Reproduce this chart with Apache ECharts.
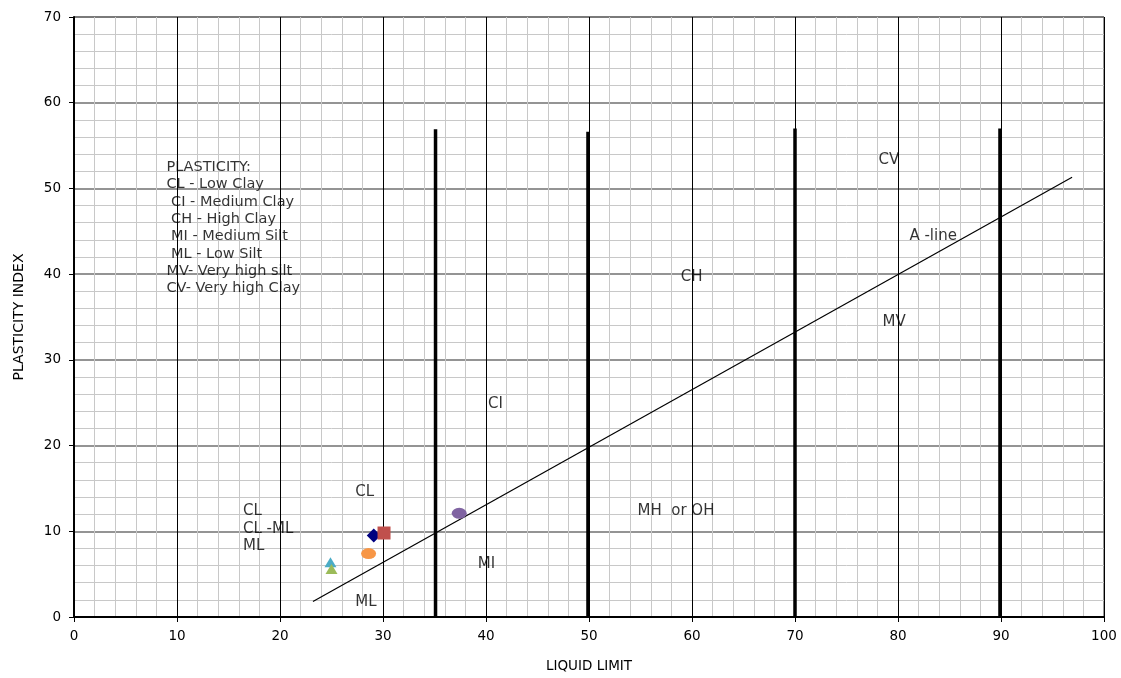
<!DOCTYPE html>
<html>
<head>
<meta charset="utf-8">
<script src="https://cdn.jsdelivr.net/npm/echarts@6/dist/echarts.min.js"></script>
<style>
html,body{margin:0;padding:0;background:#fff;}
#chart{width:1121px;height:678px;}
</style>
</head>
<body>
<div id="chart"></div>
<script>
// ---- Data ----
const xTicks = [0, 10, 20, 30, 40, 50, 60, 70, 80, 90, 100];
const yTicks = [0, 10, 20, 30, 40, 50, 60, 70];

// Sample points (Liquid limit, Plasticity index)
const sampleLL = [29.1, 30.1, 28.6, 24.9, 25.0, 37.4];
const samplePI = [9.5, 9.8, 7.4, 6.4, 5.6, 12.1];
const sampleSymbols = ['diamond', 'rect', 'ellipse', 'triangle', 'triangle', 'ellipse'];
const sampleColors = ['#000080', '#C0504D', '#F79646', '#4BACC6', '#9BBB59', '#8064A2'];

// A-line end points
const aLineLL = [23.2, 96.9];
const aLinePI = [1.8, 51.3];

// Thick zone boundary lines
const boundaryLL = [35.1, 49.9, 70.0, 89.9];
const boundaryTop = [56.9, 56.6, 57.0, 57.0];

// Zone annotations (left edge x, centre y, text)
const zoneLL = [78.1, 81.1, 58.9, 78.5, 40.2, 27.3, 16.4, 16.4, 16.4, 39.2, 27.3, 54.7];
const zonePI = [53.3, 44.4, 39.6, 34.4, 24.8, 14.6, 12.3, 10.3, 8.3, 6.2, 1.7, 12.3];
const zoneText = ['CV', 'A -line', 'CH', 'MV', 'CI', 'CL', 'CL', 'CL -ML', 'ML', 'MI', 'ML', 'MH  or OH'];

// Key text block
const keyLines = ['PLASTICITY:', 'CL - Low Clay', ' CI - Medium Clay', ' CH - High Clay', ' MI - Medium Silt', ' ML - Low Silt', 'MV- Very high silt', 'CV- Very high Clay'];
const keyPos = [8.97, 45.4];

// ---- Build ----
const FONT = 'DejaVu Sans';
const series = [];

boundaryLL.forEach((x, i) => {
  series.push({
    type: 'line', silent: true, symbol: 'none', animation: false,
    data: [[x, 0], [x, boundaryTop[i]]],
    lineStyle: { color: '#000', width: 3.5 }, z: 3
  });
});

series.push({
  type: 'line', silent: true, symbol: 'none', animation: false,
  data: aLineLL.map((x, i) => [x, aLinePI[i]]),
  lineStyle: { color: '#000', width: 1.2 }, z: 4
});

const symSizes = { diamond: [14, 14], rect: [13, 13], ellipse: [15, 11], triangle: [12, 10] };
sampleLL.forEach((x, i) => {
  let sym = sampleSymbols[i];
  const size = symSizes[sym];
  if (sym === 'ellipse') sym = 'circle';
  series.push({
    type: 'scatter', animation: false,
    data: [[x, samplePI[i]]],
    symbol: sym, symbolSize: size,
    itemStyle: { color: sampleColors[i], opacity: 1 }, z: 5
  });
});

series.push({
  type: 'scatter', animation: false, silent: true,
  data: zoneLL.map((x, i) => ({ value: [x, zonePI[i]], name: zoneText[i] })),
  symbolSize: 0.1,
  itemStyle: { color: 'transparent' },
  label: {
    show: true, position: 'right', distance: 0,
    formatter: p => p.name,
    color: '#000', fontFamily: FONT, fontSize: 15
  },
  z: 6
});

series.push({
  type: 'scatter', animation: false, silent: true,
  data: [{ value: keyPos, name: keyLines.join('\n') }],
  symbolSize: 0.1,
  itemStyle: { color: 'transparent' },
  label: {
    show: true, position: 'right', distance: 0, align: 'left',
    formatter: p => p.name,
    color: '#000', fontFamily: FONT, fontSize: 14.5, lineHeight: 17.3
  },
  z: 6
});

const chart = echarts.init(document.getElementById('chart'), null, { renderer: 'canvas' });
chart.setOption({
  animation: false,
  backgroundColor: '#fff',
  grid: { left: 74, top: 17, width: 1030, height: 601, containLabel: false, show: true, borderColor: '#333', borderWidth: 1, backgroundColor: 'transparent' },
  xAxis: {
    type: 'value', min: xTicks[0], max: xTicks[xTicks.length - 1], interval: 10,
    name: 'LIQUID LIMIT', nameLocation: 'middle', nameGap: 42,
    nameTextStyle: { fontFamily: FONT, fontSize: 13.5, color: '#000' },
    axisLine: { show: true, onZero: false, lineStyle: { color: '#000', width: 2 } },
    axisTick: { show: true, inside: false, length: 5, lineStyle: { color: '#000' } },
    axisLabel: { margin: 12, fontFamily: FONT, fontSize: 13.5, color: '#000' },
    splitLine: { show: true, lineStyle: { color: '#000', width: 1 } },
    minorTick: { show: false, splitNumber: 5 },
    minorSplitLine: { show: true, lineStyle: { color: '#c8c8c8', width: 1 } }
  },
  yAxis: {
    type: 'value', min: yTicks[0], max: yTicks[yTicks.length - 1], interval: 10,
    name: 'PLASTICITY INDEX', nameLocation: 'middle', nameGap: 48, nameRotate: 90,
    nameTextStyle: { fontFamily: FONT, fontSize: 14, color: '#000' },
    axisLine: { show: true, onZero: false, lineStyle: { color: '#000', width: 2 } },
    axisTick: { show: true, inside: false, length: 5, lineStyle: { color: '#000' } },
    axisLabel: { margin: 13, fontFamily: FONT, fontSize: 13.5, color: '#000' },
    splitLine: { show: true, lineStyle: { color: '#707070', width: 1.5 } },
    minorTick: { show: false, splitNumber: 5 },
    minorSplitLine: { show: true, lineStyle: { color: '#c8c8c8', width: 1 } }
  },
  series: series
});
</script>
</body>
</html>
